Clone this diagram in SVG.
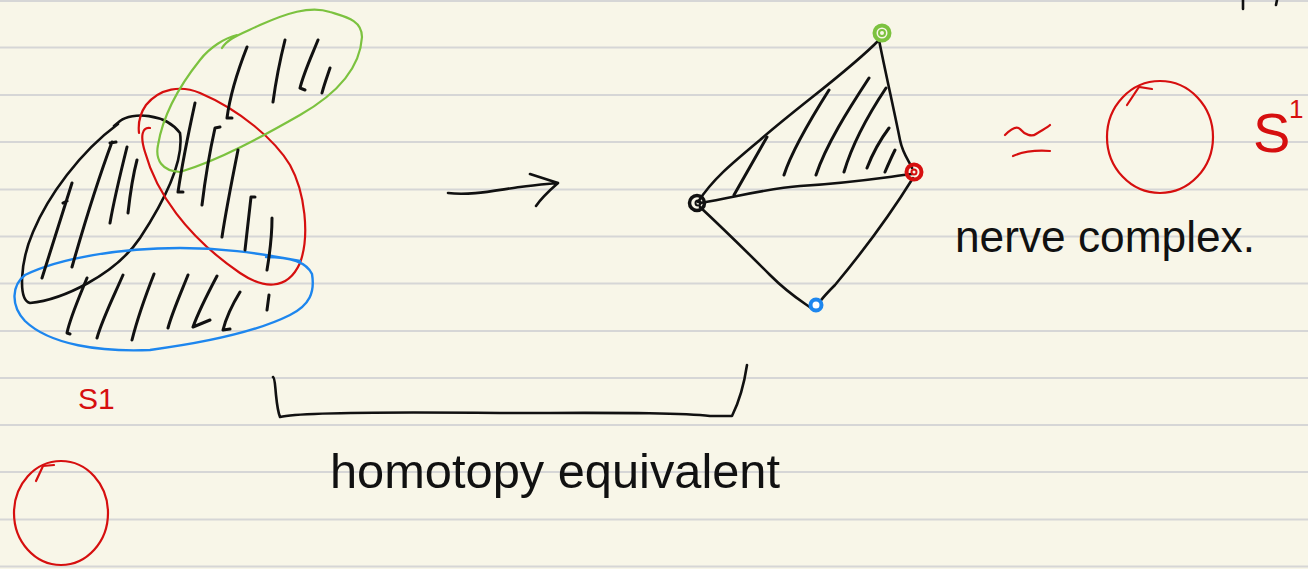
<svg xmlns="http://www.w3.org/2000/svg" width="1308" height="569" viewBox="0 0 1308 569">
<style>
.rule{stroke:#d6d6d6;stroke-width:2}
.ink{fill:none;stroke:#111;stroke-width:2.6;stroke-linecap:round;stroke-linejoin:round}
.hat{fill:none;stroke:#111;stroke-width:3;stroke-linecap:round;stroke-linejoin:round}
.red{fill:none;stroke:#d60f0f;stroke-width:2.2;stroke-linecap:round}
.grn{fill:none;stroke:#7cc23f;stroke-width:2.2;stroke-linecap:round}
.blu{fill:none;stroke:#1d86ee;stroke-width:2.4;stroke-linecap:round}
.txt{font-family:"Liberation Sans",Arial,sans-serif;fill:#111}
.rtxt{font-family:"Liberation Sans",Arial,sans-serif;fill:#d60f0f}
</style>
<rect width="1308" height="569" fill="#f8f6e8"/>
<g id="paper">
<line class="rule" x1="0" y1="1" x2="1308" y2="1"/>
<line class="rule" x1="0" y1="47.5" x2="1308" y2="47.5"/>
<line class="rule" x1="0" y1="95" x2="1308" y2="95"/>
<line class="rule" x1="0" y1="142" x2="1308" y2="142"/>
<line class="rule" x1="0" y1="189.5" x2="1308" y2="189.5"/>
<line class="rule" x1="0" y1="236.5" x2="1308" y2="236.5"/>
<line class="rule" x1="0" y1="283.5" x2="1308" y2="283.5"/>
<line class="rule" x1="0" y1="331" x2="1308" y2="331"/>
<line class="rule" x1="0" y1="378" x2="1308" y2="378"/>
<line class="rule" x1="0" y1="425" x2="1308" y2="425"/>
<line class="rule" x1="0" y1="472" x2="1308" y2="472"/>
<line class="rule" x1="0" y1="519.5" x2="1308" y2="519.5"/>
<line class="rule" x1="0" y1="566.5" x2="1308" y2="566.5"/>
<path class="ink" d="M1243,0 L1243,9 M1277,0 L1276,5"/>
</g>
<g id="cover">
<path class="ink" d="M114,126 L120,121 C132,112 165,113 180,133 C184,160 165,200 140,238 C115,275 62,300 30,303 C18,300 20,262 33,232 C48,196 80,152 118,124"/>
<path class="red" d="M150,128 C142,127 140,136 145,152 C156,192 186,236 240,273 C262,288 287,292 300,263 C310,236 305,192 290,165 C275,140 240,110 200,93 C181,85 160,88 146,105 C139,115 138,124 139,133"/>
<path class="grn" d="M222,48 C228,38 241,34 260,25 C285,14 310,5 330,12 C346,17 362,20 362,37 C360,70 335,95 300,115 C265,135 220,160 180,172 C162,171 155,160 158,145 C163,115 180,85 200,60 C210,47 225,38 237,35"/>
<path class="blu" d="M266,257 C286,257 306,261 312,274 C315,292 310,305 290,315 C260,330 210,342 150,350 C100,352 50,345 25,321 C10,305 12,285 25,275 C60,258 120,248 180,248 C220,248 252,252 300,261"/>
<path class="hat" d="M72,183 L42,278 M63,203 L67,201 M112,142 C96,185 84,225 72,267 M110,143 L116,142 M127,147 C120,175 114,200 110,223 M137,160 C133,175 130,195 128,213"/>
<path class="hat" d="M195,103 C188,135 182,165 178,192 L183,192 M220,127 L215,128 C209,155 205,180 202,205 M238,150 C232,180 226,210 222,237 M255,197 L251,197 C249,215 247,233 245,250 M272,218 C272,235 270,252 267,270"/>
<path class="hat" d="M247,47 C238,70 230,95 227,118 L232,118 M285,40 C280,60 276,80 273,102 M318,40 C312,55 304,72 300,88 L305,90 M330,68 C327,77 324,85 322,93"/>
<path class="hat" d="M87,278 C78,300 70,318 67,333 L70,334 M123,275 C112,300 102,320 97,338 M154,274 C145,297 137,320 132,340 M188,275 C180,295 172,313 168,328 M217,276 C208,293 198,313 193,327 L210,320 M240,292 C232,305 226,318 223,330 L230,329 M269,295 L267,310"/>
</g>
<g id="nerve">
<path class="hat" d="M767,137 L734,195 M829,90 C810,120 792,150 784,175 M869,78 C848,110 826,145 816,175 M886,88 C868,115 852,145 844,172 M889,128 C880,140 872,155 867,168 M895,150 C891,158 888,165 885,172"/>
<path class="ink" d="M879,40 C850,70 800,105 760,140 C730,165 712,180 698,202 M879,40 C886,75 894,110 900,140 C903,155 910,162 912,168 M700,203 C740,196 770,188 800,186 C850,183 880,178 912,174 M700,207 C730,235 750,255 770,275 C790,295 800,300 814,310 M913,178 C890,215 860,255 835,285 C825,295 820,300 818,305"/>
<g id="v-green"><circle cx="882" cy="33" r="7.5" fill="none" stroke="#7cc23f" stroke-width="4"/><circle cx="882" cy="33" r="3" fill="none" stroke="#7cc23f" stroke-width="2"/></g>
<g id="v-red"><circle cx="914" cy="172" r="7.5" fill="none" stroke="#d60f0f" stroke-width="4"/><circle cx="914" cy="172" r="2.5" fill="none" stroke="#d60f0f" stroke-width="2"/></g>
<g id="v-black"><circle cx="697" cy="203" r="7.5" fill="none" stroke="#111" stroke-width="3.5"/><circle cx="698" cy="203" r="2.5" fill="none" stroke="#111" stroke-width="2"/></g>
<g id="v-blue"><circle cx="816" cy="305" r="5.5" fill="#fff" stroke="#1d86ee" stroke-width="4"/></g>
</g>
<g id="connectors">
<path class="ink" d="M448,193 C470,196 497,190 520,187 C535,185 548,184 558,183 M530,174 L558,183 M536,206 C542,197 550,190 558,183"/>
<path class="ink" d="M273,377 C275,378 275,385 276,395 C277,405 278,412 280,417 C300,412 400,412 500,413 C600,413 680,412 710,416 L732,416 C740,400 744,385 747,365"/>
</g>
<g id="labels">
<path class="red" d="M1005,135 C1012,128 1017,126 1020,129 C1025,135 1032,137 1036,134 C1042,130 1047,128 1050,125 M1013,156 C1022,152 1035,150 1050,151"/>
<ellipse class="red" cx="1160" cy="137" rx="53" ry="56"/>
<path class="red" d="M1127,105 L1139,87 L1152,89"/>
<text class="rtxt" x="1253" y="152" font-size="56">S</text>
<text class="rtxt" x="1289" y="118" font-size="26">1</text>
<text class="txt" x="955" y="252" font-size="44" textLength="300" lengthAdjust="spacingAndGlyphs">nerve complex.</text>
<text class="rtxt" x="78" y="409" font-size="30">S1</text>
<ellipse class="red" cx="61" cy="513" rx="47" ry="52"/>
<path class="red" d="M36,481 L43,466 L54,465"/>
<text class="txt" x="330" y="488" font-size="48" textLength="450" lengthAdjust="spacingAndGlyphs">homotopy equivalent</text>
</g>
</svg>
